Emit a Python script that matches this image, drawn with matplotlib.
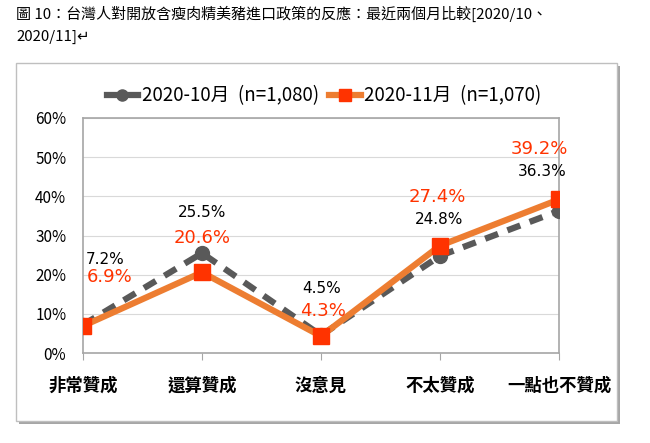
import matplotlib
matplotlib.use('Agg')
import matplotlib.pyplot as plt
from matplotlib.patches import Rectangle
from matplotlib.lines import Line2D
from matplotlib.ticker import FuncFormatter

plt.rcParams['font.family'] = ['Noto Sans CJK TC', 'DejaVu Sans']

title = '圖 10：台灣人對開放含瘦肉精美豬進口政策的反應：最近兩個月比較[2020/10、\n2020/11]↵'
categories = ['非常贊成', '還算贊成', '沒意見', '不太贊成', '一點也不贊成']
oct_vals = [7.2, 25.5, 4.5, 24.8, 36.3]
nov_vals = [6.9, 20.6, 4.3, 27.4, 39.2]
oct_label = '2020-10月  (n=1,080)'
nov_label = '2020-11月  (n=1,070)'

# label offsets in points (dx, dy) per category, text centred
oct_off = [(16, 47), (0, 29), (0.5, 34), (-1, 26.5), (-12, 28)]
nov_off = [(19, 35), (0, 25), (1.5, 18), (-2, 35), (-14, 36)]

fig = plt.figure(figsize=(6.5, 4.43), dpi=100)

# outer frame with shadow
fig.patches.append(Rectangle((19 / 650, 1 - 424 / 443), 601 / 650, 358 / 443,
                             transform=fig.transFigure, facecolor='#a6a6a6',
                             edgecolor='none', zorder=0))
fig.patches.append(Rectangle((16 / 650, 1 - 421 / 443), 601 / 650, 358 / 443,
                             transform=fig.transFigure, facecolor='white',
                             edgecolor='#bfbfbf', lw=1, zorder=1))

fig.text(16 / 650, 1 - 6 / 443, title, ha='left', va='top', fontsize=10.8,
         color='black', linespacing=1.7)

ax = fig.add_axes([83 / 650, 1 - 353 / 443, 476 / 650, 235 / 443])
ax.set_zorder(3)
ax.patch.set_alpha(0)
x = list(range(len(categories)))

ax.plot(x, oct_vals, color='#595959', lw=4.5, dashes=(2.2, 1.6),
        marker='o', markersize=10, markerfacecolor='#595959',
        markeredgecolor='#595959', zorder=3)
ax.plot(x, nov_vals, color='#ED7D31', lw=4.5, marker='s', markersize=12,
        markerfacecolor='#FF3300', markeredgecolor='#FF3300', zorder=4)

for i in x:
    ax.annotate(f'{oct_vals[i]:.1f}%', (i, oct_vals[i]), xytext=oct_off[i],
                textcoords='offset points', ha='center', va='center',
                fontsize=11, color='black', family='DejaVu Sans', zorder=5)
    ax.annotate(f'{nov_vals[i]:.1f}%', (i, nov_vals[i]), xytext=nov_off[i],
                textcoords='offset points', ha='center', va='center',
                fontsize=13, color='#FF3300', family='DejaVu Sans', zorder=5)

ax.set_xlim(0, 4)
ax.set_ylim(0, 60)
ax.set_yticks(range(0, 61, 10))
ax.yaxis.set_major_formatter(FuncFormatter(lambda v, p: f'{v:.0f}%'))
ax.set_xticks(x)
ax.set_xticklabels(categories, fontsize=12.5, fontweight='bold')
ax.tick_params(axis='x', length=5, color='#a6a6a6', pad=12)
ax.tick_params(axis='y', length=0, labelsize=11, pad=12)
ax.grid(axis='y', color='#d9d9d9', lw=0.8)
ax.set_axisbelow(True)
for s in ax.spines.values():
    s.set_color('#a6a6a6')
    s.set_linewidth(1.2)

# legend uses solid handles like the original
h1 = Line2D([], [], color='#595959', lw=4.5, marker='o', markersize=8,
            markerfacecolor='#595959', markeredgecolor='#595959')
h2 = Line2D([], [], color='#ED7D31', lw=4.5, marker='s', markersize=9,
            markerfacecolor='#FF3300', markeredgecolor='#FF3300')
leg = fig.legend(handles=[h1, h2], labels=[oct_label, nov_label], loc='center',
                 bbox_to_anchor=(324 / 650, 1 - 96 / 443), ncol=2, frameon=False,
                 fontsize=13.5, handlelength=1.7, columnspacing=0.5,
                 handletextpad=0.2)
leg.set_zorder(4)

fig.savefig('out.png', dpi=100)
